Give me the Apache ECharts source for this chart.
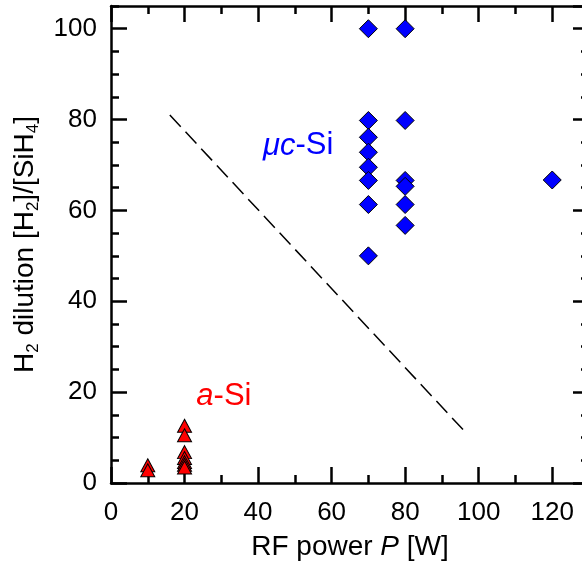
<!DOCTYPE html>
<html>
<head>
<meta charset="utf-8">
<script src="https://cdn.jsdelivr.net/npm/echarts@6/dist/echarts.min.js"></script>
<style>
html, body { margin: 0; background: #fff; }
#chart { width: 582px; height: 565px; }
</style>
</head>
<body>
<div id="chart"></div>
<script>
// a-Si (red triangles)
var aSiPower = [10, 10, 20, 20, 20, 20, 20, 20, 20];
var aSiDilution = [3.9, 2.8, 12.6, 10.5, 6.8, 5.5, 4.6, 4.0, 3.4];
// uc-Si (blue diamonds)
var ucSiPower = [70, 70, 70, 70, 70, 70, 70, 70, 80, 80, 80, 80, 80, 80, 120];
var ucSiDilution = [100, 79.8, 76.1, 72.8, 69.5, 66.6, 61.3, 50.0, 100, 79.8, 66.6, 65.3, 61.3, 56.7, 66.7];
// dashed boundary
var borderPower = [16, 96.6];
var borderDilution = [81, 11];
// axis ranges
var xMax = 130, yMax = 105;

var font = 'Liberation Sans, Arial, sans-serif';
var black = '#000';

function pairs(xs, ys) {
	return xs.map(function(x, i) { return [x, ys[i]]; });
}

// major axes carry the line, minor ones only the short ticks
function axis(pos, max, interval, len, extra) {
	var a = {
		type: 'value',
		position: pos,
		min: 0,
		max: max,
		interval: interval,
		axisLine: { show: len > 10, onZero: false, lineStyle: { color: black, width: 2.5 } },
		axisTick: { show: true, inside: true, length: len, lineStyle: { color: black, width: 2.5 } },
		axisLabel: { show: false },
		splitLine: { show: false }
	};
	for (var k in extra) a[k] = extra[k];
	return a;
}

var tickLabel = { show: true, fontSize: 26, color: black, fontFamily: font, showMaxLabel: false };

var chart = echarts.init(document.getElementById('chart'));
chart.setOption({
	animation: false,
	grid: { left: 111, top: 6, width: 478, height: 477, containLabel: false, outerBoundsMode: 'none' },
	xAxis: [
		axis('bottom', xMax, 20, 16, {
			axisLabel: Object.assign({ margin: 17 }, tickLabel),
			name: '{n|RF power }{i|P}{n| [W]}',
			nameLocation: 'middle',
			nameGap: 50,
			nameTextStyle: {
				rich: {
					n: { fontSize: 28, fontFamily: font, color: black },
					i: { fontSize: 28, fontFamily: font, color: black, fontStyle: 'italic' }
				}
			}
		}),
		axis('bottom', xMax, 10, 8),
		axis('top', xMax, 20, 16),
		axis('top', xMax, 10, 8)
	],
	yAxis: [
		axis('left', yMax, 20, 16, {
			axisLabel: Object.assign({ margin: 14 }, tickLabel),
			name: '{n|H}{s|2}{n| dilution [H}{s|2}{n|]/[SiH}{s|4}{n|]}',
			nameLocation: 'middle',
			nameRotate: 90,
			nameGap: 69,
			nameTextStyle: {
				rich: {
					n: { fontSize: 28, fontFamily: font, color: black, lineHeight: 34, verticalAlign: 'middle' },
					s: { fontSize: 17, fontFamily: font, color: black, lineHeight: 14, verticalAlign: 'bottom' }
				}
			}
		}),
		axis('left', yMax, 5, 8),
		axis('right', yMax, 20, 16),
		axis('right', yMax, 5, 8)
	],
	series: [{
		name: 'boundary',
		type: 'line',
		data: pairs(borderPower, borderDilution),
		symbol: 'none',
		lineStyle: { color: black, width: 1.5, type: [16, 7] },
		z: 1
	}, {
		name: 'a-Si',
		type: 'scatter',
		data: pairs(aSiPower, aSiDilution),
		symbol: 'triangle',
		symbolSize: [14, 13],
		itemStyle: { color: '#ff0000', borderColor: black, borderWidth: 1, opacity: 1 },
		z: 3
	}, {
		name: 'uc-Si',
		type: 'scatter',
		data: pairs(ucSiPower, ucSiDilution),
		symbol: 'diamond',
		symbolSize: 18,
		itemStyle: { color: '#0000ff', borderColor: black, borderWidth: 1, opacity: 1 },
		z: 3
	}, {
		name: 'notes',
		type: 'scatter',
		symbolSize: 0,
		silent: true,
		itemStyle: { opacity: 1 },
		label: {
			show: true,
			position: 'inside',
			rich: {
				bi: { fontSize: 31, fontFamily: font, color: '#0000ff', fontStyle: 'italic' },
				bn: { fontSize: 31, fontFamily: font, color: '#0000ff' },
				ri: { fontSize: 31, fontFamily: font, color: '#ff0000', fontStyle: 'italic' },
				rn: { fontSize: 31, fontFamily: font, color: '#ff0000' }
			}
		},
		data: [
			{ value: [50.9, 74.2], label: { formatter: '{bi|\u03bcc}{bn|-Si}' } },
			{ value: [30.7, 19.0], label: { formatter: '{ri|a}{rn|-Si}' } }
		],
		z: 4
	}]
});
</script>
</body>
</html>
